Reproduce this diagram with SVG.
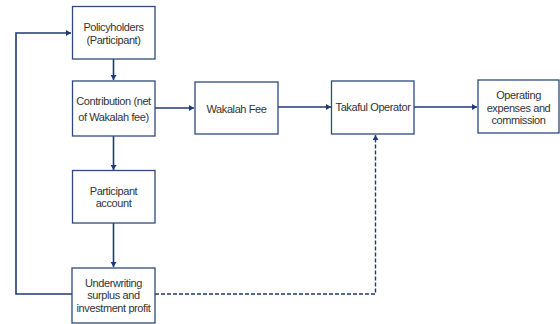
<svg xmlns="http://www.w3.org/2000/svg" width="560" height="324" viewBox="0 0 560 324">
<defs>
<style>
.box{fill:#fff;stroke:#2e4a7d;stroke-width:1.3}
.t{font-family:"Liberation Sans",Arial,sans-serif;font-size:11px;fill:#333;text-anchor:middle;letter-spacing:-0.4px}
.ln{fill:none;stroke:#1f3a73;stroke-width:1.6}
.dash{fill:none;stroke:#1f3a73;stroke-width:1.4;stroke-dasharray:4,2}
</style>
<marker id="ah" markerWidth="6" markerHeight="6" refX="5" refY="3" orient="auto" markerUnits="userSpaceOnUse">
<path d="M0,0 L5,3 L0,6 Z" fill="#1f3a73"/>
</marker>
</defs>
<rect width="560" height="324" fill="#fff"/>
<g id="connectors">
<line class="ln" x1="113.5" y1="59" x2="113.5" y2="80" marker-end="url(#ah)"/>
<line class="ln" x1="113.5" y1="136" x2="113.5" y2="170" marker-end="url(#ah)"/>
<line class="ln" x1="113.5" y1="223" x2="113.5" y2="267" marker-end="url(#ah)"/>
<line class="ln" x1="155" y1="108" x2="194" y2="108" marker-end="url(#ah)"/>
<line class="ln" x1="278" y1="107" x2="331" y2="107" marker-end="url(#ah)"/>
<line class="ln" x1="414" y1="107" x2="477" y2="107" marker-end="url(#ah)"/>
<polyline class="ln" points="72,294 16,294 16,33 71,33" marker-end="url(#ah)"/>
<polyline class="dash" points="155,294 375.5,294 375.5,135" marker-end="url(#ah)"/>
</g>
<g id="policyholders">
<rect class="box" x="72.5" y="6.5" width="82.5" height="52.5"/>
<text class="t" x="113.5" y="30.5">Policyholders</text>
<text class="t" x="113.5" y="43.5">(Participant)</text>
</g>
<g id="contribution">
<rect class="box" x="72.5" y="81" width="82.5" height="55"/>
<text class="t" x="113.5" y="105">Contribution (net</text>
<text class="t" x="113.5" y="120.5">of Wakalah fee)</text>
</g>
<g id="participant-account">
<rect class="box" x="72.5" y="170.5" width="82.5" height="52.5"/>
<text class="t" x="113.5" y="194.5">Participant</text>
<text class="t" x="113.5" y="207">account</text>
</g>
<g id="underwriting">
<rect class="box" x="72" y="268" width="83" height="55"/>
<text class="t" x="113.5" y="287">Underwriting</text>
<text class="t" x="113.5" y="299">surplus and</text>
<text class="t" x="113.5" y="312">investment profit</text>
</g>
<g id="wakalah-fee">
<rect class="box" x="195" y="82" width="83" height="52"/>
<text class="t" x="236.5" y="112.5">Wakalah Fee</text>
</g>
<g id="takaful-operator">
<rect class="box" x="331.5" y="81" width="82.5" height="53"/>
<text class="t" x="373" y="111">Takaful Operator</text>
</g>
<g id="operating-expenses">
<rect class="box" x="478" y="80" width="81" height="53"/>
<text class="t" x="518.5" y="99">Operating</text>
<text class="t" x="518.5" y="111.5">expenses and</text>
<text class="t" x="518.5" y="124">commission</text>
</g>
</svg>
